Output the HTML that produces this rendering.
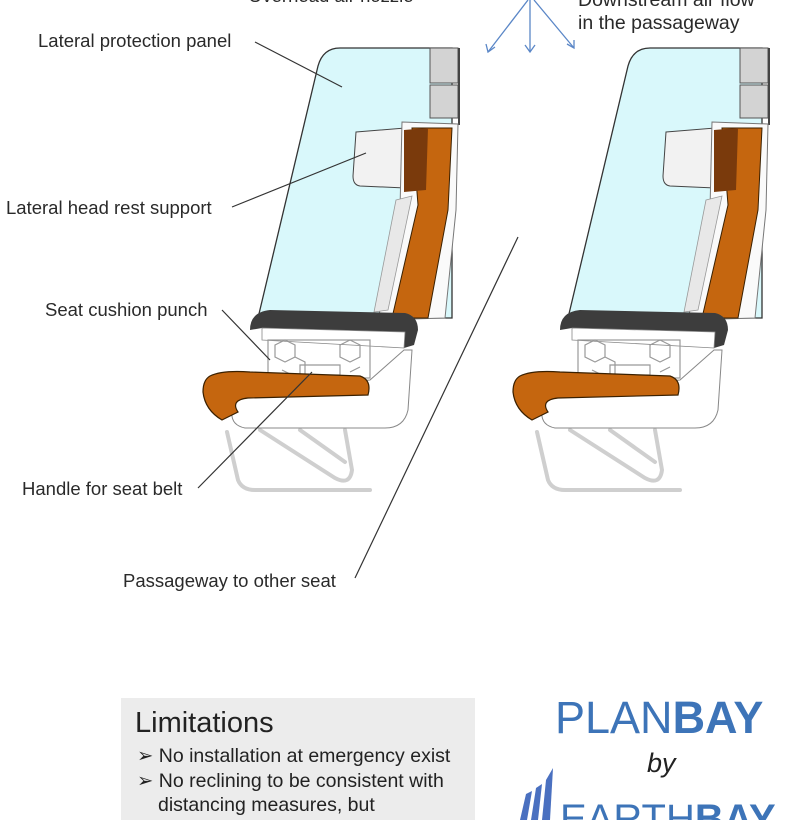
<!DOCTYPE html>
<html><head><meta charset="utf-8"><style>
body{margin:0;background:#fff;width:794px;height:820px;overflow:hidden;position:relative;font-family:"Liberation Sans",sans-serif;}
svg{position:absolute;left:0;top:0}
.t{font-family:"Liberation Sans",sans-serif;font-size:18.5px;fill:#2a2a2a}
</style></head><body>
<svg width="794" height="820" viewBox="0 0 794 820">
<defs>
<g id="seat">
  <g fill="none" stroke="#cfcfcf" stroke-width="4" stroke-linecap="round">
    <path d="M227,432 L238,480 Q242,490 255,490 L370,490"/>
    <path d="M260,430 L335,478 Q350,486 352,470 L345,430"/>
    <path d="M300,430 L345,462"/>
  </g>
  <path d="M258,318 L318,66 Q323,48 340,48 L452,48 L452,318 Z" fill="#d9f8fb" stroke="#333" stroke-width="1.3"/>
  <rect x="430" y="48" width="28" height="35" fill="#d3d3d3" stroke="#555"/>
  <rect x="430" y="85" width="28" height="33" fill="#d3d3d3" stroke="#555"/>
  <line x1="459" y1="48" x2="459" y2="125" stroke="#444" stroke-width="2"/>
  <path d="M356,132 L405,128 L405,188 L360,186 Q353,185 353,176 Z" fill="#f2f2f2" stroke="#444" stroke-width="1"/>
  <path d="M402,122 L458,124 L456,210 L445,318 L378,320 L400,210 Z" fill="#fafafa" stroke="#777" stroke-width="1"/>
  <path d="M412,128 L452,128 L448,210 L428,318 L392,318 L418,205 Z" fill="#c5660f" stroke="#3a2000" stroke-width="1"/>
  <path d="M404,130 L428,128 L426,190 L404,192 Z" fill="#7a3a0c"/>
  <path d="M396,200 L412,196 L388,310 L374,312 Z" fill="#e8e8e8" stroke="#999" stroke-width="0.8"/>
  <path d="M250,330 Q250,312 270,310 L405,313 Q418,316 418,330 L414,345 L404,348 L405,332 L262,328 Z" fill="#3d3d3d"/>
  <path d="M262,328 L405,332 L404,348 L262,340 Z" fill="#fff" stroke="#888" stroke-width="0.8"/>
  <g fill="none" stroke="#999" stroke-width="1.2">
    <rect x="268" y="340" width="102" height="38"/>
    <path d="M275,345 l10,-5 l10,5 l0,12 l-10,5 l-10,-5 z M295,357 l10,5 l0,12 M340,345 l10,-5 l10,5 l0,12 l-10,5 l-10,-5 z M300,365 h40 v10 h-40 z M282,370 l10,5 M350,372 l10,-5"/>
  </g>
  <path d="M232,392 L370,380 L404,350 L412,350 L408,410 Q404,428 385,428 L245,428 Q230,425 232,410 Z" fill="#fff" stroke="#888" stroke-width="1"/>
  <path d="M210,376 Q222,370 250,372 L360,376 Q372,380 368,395 L248,398 Q230,400 238,412 L222,420 Q205,410 203,392 Q203,380 210,376 Z" fill="#c5660f" stroke="#3a2000" stroke-width="1.2"/>
</g>
</defs>
<use href="#seat"/>
<use href="#seat" x="310"/>
<g stroke="#5b87c7" stroke-width="1.3" fill="none">
  <path d="M528,0 L488,52 M530,0 L530,52 M534,0 L574,48"/>
  <path d="M486,44 L488,52 L495,47 M525,45 L530,52 L535,45 M567,44 L574,48 L574,40"/>
</g>
<g stroke="#333" stroke-width="1.2">
  <line x1="255" y1="42" x2="342" y2="87"/>
  <line x1="232" y1="207" x2="366" y2="153"/>
  <line x1="222" y1="310" x2="270" y2="360"/>
  <line x1="198" y1="488" x2="312" y2="372"/>
  <line x1="355" y1="578" x2="518" y2="237"/>
</g>
<text class="t" x="248" y="2">Overhead air nozzle</text>
<text x="578" y="6" style="font-size:19.5px;fill:#2a2a2a">Downstream air flow</text>
<text x="578" y="29" style="font-size:19.5px;fill:#2a2a2a">in the passageway</text>
<text class="t" x="38" y="47">Lateral protection panel</text>
<text class="t" x="6" y="214">Lateral head rest support</text>
<text class="t" x="45" y="316">Seat cushion punch</text>
<text class="t" x="22" y="495">Handle for seat belt</text>
<text class="t" x="123" y="587">Passageway to other seat</text>
<rect x="121" y="698" width="354" height="130" fill="#ececec"/>
<text x="135" y="732" style="font-size:29px;fill:#222">Limitations</text>
<g style="font-size:19.5px;fill:#222">
<text x="137" y="762">➢ No installation at emergency exist</text>
<text x="137" y="787">➢ No reclining to be consistent with</text>
<text x="158" y="811">distancing measures,  but</text>
</g>
<text x="555" y="733" style="font-size:45px;fill:#3d74b8">PLAN<tspan font-weight="bold">BAY</tspan></text>
<text x="647" y="772" style="font-size:27px;font-style:italic;fill:#222">by</text>
<g fill="#4a70c0">
  <path d="M520,820 L526,794 L532,791 L527,820 Z"/>
  <path d="M531,820 L536,788 L542,784 L538,820 Z"/>
  <path d="M542,820 L546,780 L553,768 L550,820 Z"/>
</g>
<text x="560" y="832" style="font-size:40px;fill:#3d74b8">EARTH<tspan font-weight="bold">BAY</tspan></text>
</svg>
</body></html>
